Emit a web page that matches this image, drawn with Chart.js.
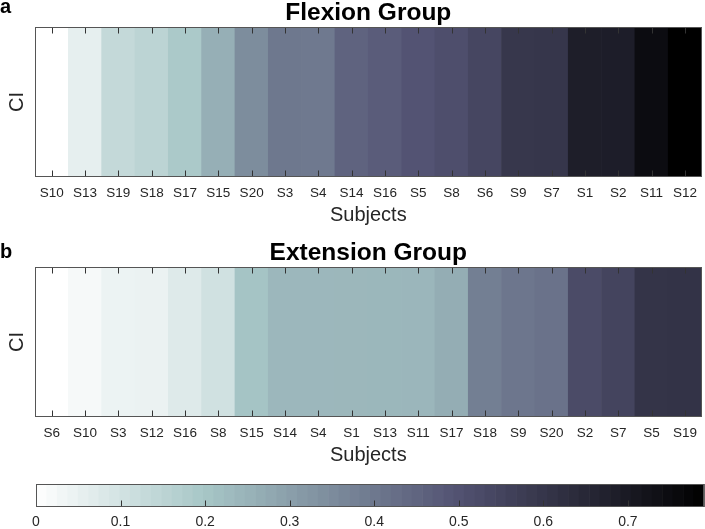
<!DOCTYPE html>
<html>
<head>
<meta charset="utf-8">
<script src="https://cdn.jsdelivr.net/npm/chart.js@4"></script>
<style>
  body { margin: 0; background: #fff; }
  #wrap { position: relative; width: 705px; height: 529px; }
  canvas { position: absolute; left: 0; }
</style>
</head>
<body>
<div id="wrap">
  <canvas id="flex" width="705" height="235" style="top:0"></canvas>
  <canvas id="ext" width="705" height="235" style="top:240px"></canvas>
  <canvas id="cbar" width="705" height="54" style="top:475px"></canvas>
</div>
<script>
// ── Data ──────────────────────────────────────────────────────────────────────

const FLEX_SUBJECTS = ["S10","S13","S19","S18","S17","S15","S20","S3","S4","S14",
                       "S16","S5","S8","S6","S9","S7","S1","S2","S11","S12"];
const FLEX_CI       = [0.000, 0.056, 0.133, 0.151, 0.190, 0.259, 0.348, 0.400, 0.398, 0.454,
                       0.472, 0.496, 0.514, 0.542, 0.595, 0.598, 0.684, 0.686, 0.747, 0.790];

const EXT_SUBJECTS  = ["S6","S10","S3","S12","S16","S8","S15","S14","S4","S1",
                       "S13","S11","S17","S18","S9","S20","S2","S7","S5","S19"];
const EXT_CI        = [0.000, 0.020, 0.043, 0.045, 0.075, 0.106, 0.206, 0.238, 0.238, 0.239,
                       0.240, 0.242, 0.266, 0.383, 0.405, 0.415, 0.525, 0.549, 0.606, 0.608];

const CBAR_TICKS = [0, 0.1, 0.2, 0.3, 0.4, 0.5, 0.6, 0.7];
const CMAX = 0.79;

// ── Style ─────────────────────────────────────────────────────────────────────

const FONT = "'Liberation Sans', Arial, Helvetica, sans-serif";
const TEXT = "#262626";
const EDGE = "#333";

// reversed MATLAB "bone": 0 -> white, CMAX -> black
function boneR(v) {
  const t = 1 - Math.min(Math.max(v / CMAX, 0), 1);
  const hr = Math.min(1, t / 0.375);
  const hg = Math.min(1, Math.max(0, (t - 0.375) / 0.375));
  const hb = Math.max(0, (t - 0.75) / 0.25);
  const c = k => Math.round(Math.min(1, k) * 255);
  return `rgb(${c((7 * t + hb) / 8)},${c((7 * t + hg) / 8)},${c((7 * t + hr) / 8)})`;
}

// ── Plugins ───────────────────────────────────────────────────────────────────

// box + inward tick marks + panel letter
const framePlugin = {
  id: "frame",
  afterDraw(chart, args, opts) {
    const { ctx, chartArea: a, scales: { x } } = chart;
    const L = Math.round(a.left) + 0.5, R = Math.round(a.right) - 0.5;
    const T = Math.round(a.top) + 0.5, B = Math.round(a.bottom) - 0.5;
    ctx.save();
    ctx.strokeStyle = EDGE;
    ctx.lineWidth = 1;
    ctx.beginPath();
    x.ticks.forEach((t, i) => {
      const px = Math.round(x.getPixelForTick(i)) + 0.5;
      if (px <= L + 1) return;
      if (opts.top) { ctx.moveTo(px, T); ctx.lineTo(px, T + 6); }
      ctx.moveTo(px, B); ctx.lineTo(px, B - 6);
    });
    ctx.stroke();
    ctx.strokeStyle = "#555";
    ctx.strokeRect(L, T, R - L, B - T);
    if (opts.letter) {
      ctx.fillStyle = "#000";
      ctx.font = `bold 20px ${FONT}`;
      ctx.textBaseline = "alphabetic";
      ctx.textAlign = "left";
      ctx.fillText(opts.letter, 0, opts.letterY);
    }
    ctx.restore();
  }
};

// colour ramp for the colour bar, 64 steps like the MATLAB map
const rampPlugin = {
  id: "ramp",
  beforeDatasetsDraw(chart) {
    const { ctx, chartArea: a, scales: { x } } = chart;
    const n = 64;
    for (let i = 0; i < n; i++) {
      const v0 = CMAX * i / n, v1 = CMAX * (i + 1) / n;
      const x0 = x.getPixelForValue(v0), x1 = x.getPixelForValue(v1);
      ctx.fillStyle = boneR((v0 + v1) / 2);
      ctx.fillRect(x0, a.top, x1 - x0 + 0.6, a.height);
    }
  }
};

// ── Heat strips ───────────────────────────────────────────────────────────────

function heatStrip(id, subjects, ci, title, letter, letterY) {
  return new Chart(document.getElementById(id), {
    type: "bar",
    data: {
      labels: subjects,
      datasets: [{
        label: "CI",
        data: ci.map(() => [0, 1]),
        backgroundColor: ci.map(boneR),
        borderWidth: 0,
        categoryPercentage: 1,
        barPercentage: 1,
      }],
    },
    options: {
      responsive: false,
      animation: false,
      devicePixelRatio: 1,
      layout: { padding: { right: 1 } },
      plugins: {
        legend: { display: false },
        tooltip: { enabled: false },
        title: {
          display: true, text: title, color: "#000", fullSize: false,
          font: { family: FONT, size: 24.5, weight: "bold", lineHeight: 1.1 },
          padding: { top: 0, bottom: 0 },
        },
        frame: { top: true, letter, letterY },
      },
      scales: {
        x: {
          grid: { display: false, drawTicks: false },
          border: { display: false },
          ticks: { color: TEXT, font: { family: FONT, size: 13.5 }, padding: 8, maxRotation: 0, autoSkip: false },
          title: { display: true, text: "Subjects", color: TEXT, font: { family: FONT, size: 20 }, padding: { top: 0, bottom: 8 } },
          afterFit: s => { s.height = 58; },
        },
        y: {
          min: 0, max: 1,
          grid: { display: false, drawTicks: false },
          border: { display: false },
          ticks: { display: false },
          title: { display: true, text: "CI", color: TEXT, font: { family: FONT, size: 20 }, padding: { top: 5, bottom: 0 } },
          afterFit: s => { s.width = 35; },
        },
      },
    },
    plugins: [framePlugin],
  });
}

heatStrip("flex", FLEX_SUBJECTS, FLEX_CI, "Flexion Group", "a", 13);
heatStrip("ext", EXT_SUBJECTS, EXT_CI, "Extension Group", "b", 18);

// ── Colour bar ────────────────────────────────────────────────────────────────

new Chart(document.getElementById("cbar"), {
  type: "scatter",
  data: { datasets: [{ data: [] }] },
  options: {
    responsive: false,
    animation: false,
    devicePixelRatio: 1,
    layout: { padding: { left: 36, right: 1, top: 9 } },
    plugins: { legend: { display: false }, tooltip: { enabled: false }, frame: { top: false } },
    scales: {
      x: {
        type: "linear", min: 0, max: CMAX,
        grid: { display: false, drawTicks: false },
        border: { display: false },
        afterBuildTicks: s => { s.ticks = CBAR_TICKS.map(v => ({ value: v })); },
        ticks: { color: TEXT, font: { family: FONT, size: 14 }, padding: 7, callback: v => String(v) },
        afterFit: s => { s.height = 22; },
      },
      y: { display: false, min: 0, max: 1 },
    },
  },
  plugins: [rampPlugin, framePlugin],
});
</script>
</body>
</html>
